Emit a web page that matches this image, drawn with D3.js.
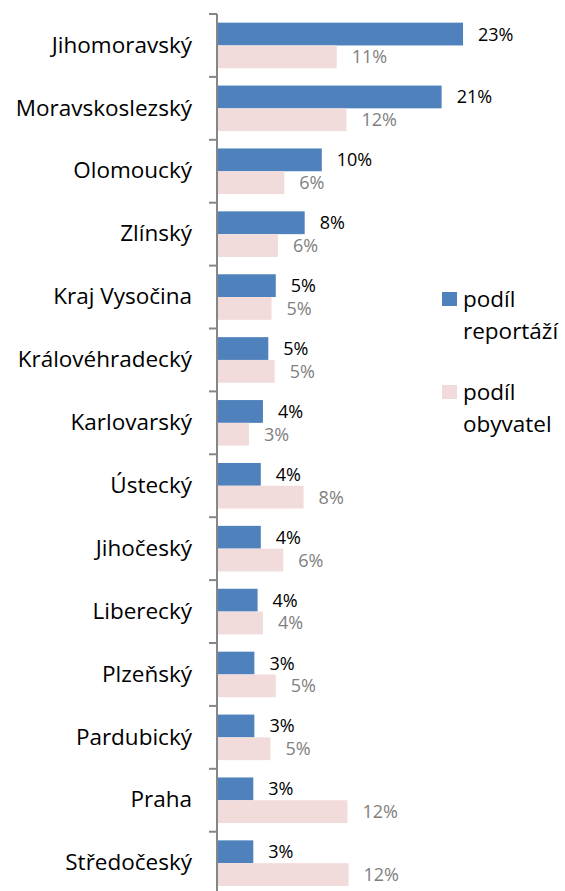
<!DOCTYPE html>
<html>
<head>
<meta charset="utf-8">
<script src="https://cdn.jsdelivr.net/npm/d3@7"></script>
<style>
  html, body { margin: 0; padding: 0; background: #fff; }
  svg { display: block; font-family: 'Open Sans', sans-serif; }
</style>
</head>
<body>
<div id="chart"></div>
<script>
// regions, top to bottom
const regions = ['Jihomoravský', 'Moravskoslezský', 'Olomoucký', 'Zlínský', 'Kraj Vysočina',
  'Královéhradecký', 'Karlovarský', 'Ústecký', 'Jihočeský', 'Liberecký', 'Plzeňský',
  'Pardubický', 'Praha', 'Středočeský']

// share of reports (%)
const reportShare = [22.9, 20.9, 9.7, 8.1, 5.4, 4.7, 4.2, 4.0, 4.0, 3.7, 3.4, 3.4, 3.3, 3.3]
// share of population (%)
const populationShare = [11.1, 12.0, 6.2, 5.6, 5.0, 5.3, 2.9, 8.0, 6.1, 4.2, 5.4, 4.9, 12.1, 12.2]

const seriesNames = ['podíl reportáží', 'podíl obyvatel']
const seriesColors = ['#4f81bd', '#f2dcdb']
const labelColors = ['#000000', '#808080']

const width = 565
const height = 891

const svg = d3.select('#chart').append('svg')
  .attr('width', width).attr('height', height)

// plot runs a little past the bottom edge of the picture
const y0 = d3.scaleBand().domain(regions).range([14, 894.6])
const y1 = d3.scaleBand().domain([0, 1]).range([0, y0.bandwidth()]).paddingOuter(0.38)
const x = d3.scaleLinear().domain([0, 25]).range([218, 218 + 267.5])

const rows = regions.map((r, i) => ({ region: r, values: [reportShare[i], populationShare[i]] }))

const groups = svg.selectAll('g.row').data(rows).join('g')
  .attr('class', 'row')
  .attr('transform', d => `translate(0,${y0(d.region)})`)

groups.selectAll('rect').data(d => d.values).join('rect')
  .attr('x', x(0))
  .attr('y', (d, i) => y1(i))
  .attr('width', d => x(d) - x(0))
  .attr('height', y1.bandwidth())
  .attr('fill', (d, i) => seriesColors[i])

groups.selectAll('text.val').data(d => d.values).join('text')
  .attr('class', 'val')
  .attr('x', d => x(d) + 15)
  .attr('y', (d, i) => y1(i) + y1.bandwidth() / 2)
  .attr('dy', '0.36em')
  .attr('fill', (d, i) => labelColors[i])
  .style('font-size', '18px')
  .text(d => Math.round(d) + '%')

// category axis
const axis = svg.append('g').attr('transform', `translate(${x(0) - 1},0)`)
  .call(d3.axisLeft(y0).tickSize(0).tickPadding(25))
axis.select('.domain').attr('stroke', '#868686').attr('stroke-width', 2)
  .attr('d', `M0,${y0.range()[0]}V${height}`)
axis.selectAll('text').attr('fill', '#000').style('font-size', '22.5px')
  .attr('font-family', "'Open Sans', sans-serif")
axis.selectAll('.boundary').data(regions).join('line')
  .attr('class', 'boundary')
  .attr('x1', -8).attr('x2', 0)
  .attr('y1', d => y0(d)).attr('y2', d => y0(d))
  .attr('stroke', '#868686').attr('stroke-width', 2)

// legend
const legend = svg.append('g').attr('transform', 'translate(442,292)')
seriesNames.forEach((name, i) => {
  const lg = legend.append('g').attr('transform', `translate(0,${i * 93})`)
  lg.append('rect').attr('width', 15).attr('height', 14).attr('fill', seriesColors[i])
  const words = name.split(' ')
  lg.append('text').attr('x', 21).attr('y', 7).attr('dy', '0.36em')
    .style('font-size', '22.5px').text(words[0])
  lg.append('text').attr('x', 21).attr('y', 39).attr('dy', '0.36em')
    .style('font-size', '22.5px').text(words[1])
})
</script>
</body>
</html>
